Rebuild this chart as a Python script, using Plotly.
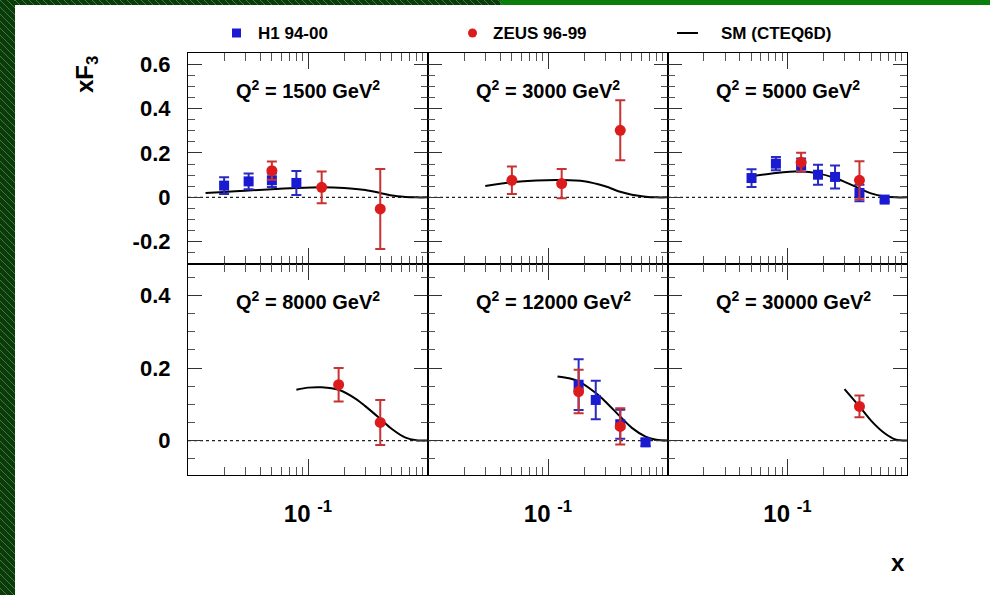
import plotly.graph_objects as go

W, H = 990, 595
FONT = "Liberation Sans"

# ---------------- data ----------------
q2_labels = ["1500", "3000", "5000", "8000", "12000", "30000"]

# H1 94-00 measurements (x, xF3, total error)
h1_x = {
    "1500": [0.02, 0.032, 0.05, 0.08],
    "5000": [0.05, 0.08, 0.13, 0.18, 0.25, 0.40, 0.65],
    "12000": [0.18, 0.25, 0.40, 0.65],
}
h1_y = {
    "1500": [0.053, 0.072, 0.077, 0.065],
    "5000": [0.087, 0.152, 0.145, 0.102, 0.092, 0.020, -0.010],
    "12000": [0.154, 0.112, 0.045, -0.005],
}
h1_err = {
    "1500": [0.038, 0.036, 0.030, 0.054],
    "5000": [0.040, 0.030, 0.030, 0.045, 0.052, 0.037, 0.010],
    "12000": [0.070, 0.053, 0.040, 0.010],
}

# ZEUS 96-99 measurements
zeus_x = {
    "1500": [0.05, 0.13, 0.40],
    "3000": [0.05, 0.13, 0.40],
    "5000": [0.13, 0.40],
    "8000": [0.18, 0.40],
    "12000": [0.18, 0.40],
    "30000": [0.40],
}
zeus_y = {
    "1500": [0.120, 0.045, -0.052],
    "3000": [0.077, 0.062, 0.302],
    "5000": [0.158, 0.077],
    "8000": [0.154, 0.050],
    "12000": [0.135, 0.039],
    "30000": [0.094],
}
zeus_err = {
    "1500": [0.041, 0.072, 0.180],
    "3000": [0.062, 0.066, 0.135],
    "5000": [0.043, 0.086],
    "8000": [0.046, 0.062],
    "12000": [0.060, 0.050],
    "30000": [0.030],
}

# Standard Model expectation (CTEQ6D)
sm_x = {
    "1500": [0.014, 0.02, 0.03, 0.05, 0.08, 0.13, 0.2, 0.3, 0.4, 0.5, 0.65, 0.8, 1.0],
    "3000": [0.03, 0.05, 0.08, 0.13, 0.2, 0.3, 0.4, 0.5, 0.65, 0.8, 1.0],
    "5000": [0.05, 0.08, 0.13, 0.18, 0.25, 0.3, 0.4, 0.5, 0.65, 0.8, 1.0],
    "8000": [0.08, 0.1, 0.13, 0.18, 0.25, 0.3, 0.4, 0.5, 0.65, 0.8, 1.0],
    "12000": [0.12, 0.15, 0.18, 0.25, 0.3, 0.4, 0.5, 0.65, 0.8, 1.0],
    "30000": [0.3, 0.4, 0.5, 0.65, 0.8, 1.0],
}
sm_y = {
    "1500": [0.020, 0.024, 0.030, 0.037, 0.042, 0.045, 0.042, 0.033, 0.020, 0.008, 0.002, 0.0, 0.0],
    "3000": [0.051, 0.068, 0.076, 0.078, 0.073, 0.050, 0.025, 0.012, 0.003, 0.0, 0.0],
    "5000": [0.095, 0.110, 0.117, 0.108, 0.087, 0.070, 0.040, 0.018, 0.004, 0.0, 0.0],
    "8000": [0.140, 0.146, 0.147, 0.140, 0.115, 0.095, 0.060, 0.032, 0.008, 0.001, 0.0],
    "12000": [0.177, 0.172, 0.163, 0.131, 0.108, 0.066, 0.035, 0.011, 0.002, 0.0],
    "30000": [0.142, 0.094, 0.055, 0.020, 0.003, 0.0],
}

y_ticks_top = [-0.2, 0, 0.2, 0.4, 0.6]
y_ticks_bottom = [0, 0.2, 0.4]
x_tick = [0.1]
x_tick_text = ["10 <sup>-1</sup>"]
x_minor = [0.02, 0.03, 0.04, 0.05, 0.06, 0.07, 0.08, 0.09,
           0.2, 0.3, 0.4, 0.5, 0.6, 0.7, 0.8, 0.9]

# ---------------- layout geometry (pixels) ----------------
col_px = [(188, 428), (428, 668), (668, 907)]
row_px = [(53, 264), (264, 475)]


def px(x):
    return x / W


def py(y):
    return 1 - y / H


BLUE = "#1a1ad2"
BLUE_BAR = "#2a2ac0"
RED = "#dc1c1c"
RED_BAR = "#c83232"

fig = go.Figure()
layout = dict(
    width=W, height=H,
    margin=dict(l=0, r=0, t=0, b=0),
    paper_bgcolor="white", plot_bgcolor="white",
    showlegend=False,
    font=dict(family=FONT, color="black"),
)
annotations = []
shapes = []

for i, q in enumerate(q2_labels):
    r, c = divmod(i, 3)
    n = i + 1
    xa = "x" if n == 1 else f"x{n}"
    ya = "y" if n == 1 else f"y{n}"
    x_key = "xaxis" if n == 1 else f"xaxis{n}"
    y_key = "yaxis" if n == 1 else f"yaxis{n}"

    yticks = y_ticks_top if r == 0 else y_ticks_bottom
    yrange = [-0.3, 0.65] if r == 0 else [-0.095, 0.487]

    layout[x_key] = dict(
        type="log", range=[-2, 0], anchor=ya,
        domain=[px(col_px[c][0]), px(col_px[c][1])],
        showgrid=False, zeroline=False,
        showline=True, linecolor="black", linewidth=1.2, mirror="allticks",
        ticks="inside", ticklen=16, tickwidth=1, tickcolor="#333",
        tickmode="array", tickvals=x_tick, ticktext=x_tick_text,
        showticklabels=(r == 1),
        tickfont=dict(family=FONT, size=24, weight="bold"),
        ticklabelstandoff=17,
        minor=dict(ticks="inside", ticklen=8, tickwidth=1, tickcolor="#555",
                   tickmode="array", tickvals=x_minor),
    )
    layout[y_key] = dict(
        range=yrange, anchor=xa,
        domain=[py(row_px[r][1]), py(row_px[r][0])],
        showgrid=False, zeroline=False,
        showline=True, linecolor="black", linewidth=1.2, mirror="allticks",
        ticks="inside", ticklen=14, tickwidth=1, tickcolor="#333",
        tickmode="array", tickvals=yticks,
        ticktext=[("%g" % v) for v in yticks],
        showticklabels=(c == 0),
        tickfont=dict(family=FONT, size=22, weight="bold"),
        ticklabelstandoff=12,
        minor=dict(ticks="inside", ticklen=7, tickwidth=1, tickcolor="#555",
                   dtick=0.05, tick0=0),
    )

    # dotted zero line
    shapes.append(dict(type="line", xref=f"{xa} domain", yref=ya,
                       x0=0, x1=1, y0=0, y1=0,
                       line=dict(color="#222", width=1.2, dash="dot"),
                       layer="below"))

    # SM curve
    fig.add_trace(go.Scatter(
        x=sm_x[q], y=sm_y[q], mode="lines", xaxis=xa, yaxis=ya,
        line=dict(color="black", width=2, shape="spline", smoothing=0.8),
    ))
    # H1 points
    if q in h1_x:
        fig.add_trace(go.Scatter(
            x=h1_x[q], y=h1_y[q], mode="markers", xaxis=xa, yaxis=ya,
            marker=dict(symbol="square", size=10, color=BLUE),
            error_y=dict(type="data", array=h1_err[q], color=BLUE_BAR,
                         thickness=2, width=5),
        ))
    # ZEUS points
    if q in zeus_x:
        fig.add_trace(go.Scatter(
            x=zeus_x[q], y=zeus_y[q], mode="markers", xaxis=xa, yaxis=ya,
            marker=dict(symbol="circle", size=11, color=RED),
            error_y=dict(type="data", array=zeus_err[q], color=RED_BAR,
                         thickness=2, width=5),
        ))

    # panel label
    annotations.append(dict(
        xref=f"{xa} domain", yref="paper",
        x=46 / 240, y=py(89 if r == 0 else 300),
        xanchor="left", yanchor="middle", showarrow=False,
        text=f"Q<sup>2</sup> = {q} GeV<sup>2</sup>",
        font=dict(family=FONT, size=20, weight="bold"),
    ))

# axis titles
annotations.append(dict(
    xref="paper", yref="paper", x=px(86), y=py(75),
    text="xF<sub>3</sub>", textangle=-90, showarrow=False,
    xanchor="center", yanchor="middle",
    font=dict(family=FONT, size=24, weight="bold"),
))
annotations.append(dict(
    xref="paper", yref="paper", x=px(898), y=py(562),
    text="x", showarrow=False, xanchor="center", yanchor="middle",
    font=dict(family=FONT, size=24, weight="bold"),
))

# legend
legend_y = 33
shapes.append(dict(type="rect", xref="paper", yref="paper",
                   x0=px(232), x1=px(241), y0=py(legend_y - 4.5), y1=py(legend_y + 4.5),
                   fillcolor=BLUE, line=dict(width=0)))
shapes.append(dict(type="circle", xref="paper", yref="paper",
                   x0=px(468), x1=px(477), y0=py(legend_y - 4.5), y1=py(legend_y + 4.5),
                   fillcolor=RED, line=dict(width=0)))
shapes.append(dict(type="line", xref="paper", yref="paper",
                   x0=px(677), x1=px(698), y0=py(legend_y), y1=py(legend_y),
                   line=dict(color="black", width=2)))
for xpos, txt in [(256, "H1 94-00"), (491, "ZEUS 96-99"), (719, "SM (CTEQ6D)")]:
    annotations.append(dict(
        xref="paper", yref="paper", x=px(xpos), y=py(legend_y),
        text=txt, showarrow=False, xanchor="left", yanchor="middle",
        font=dict(family=FONT, size=17, weight="bold"),
    ))

# green page frame: hatched band on the left, band along the top
shapes.append(dict(type="rect", xref="paper", yref="paper",
                   x0=0, x1=px(15), y0=0, y1=1,
                   fillcolor="#0b3a0b", line=dict(width=0)))
shapes.append(dict(type="rect", xref="paper", yref="paper",
                   x0=0, x1=px(500), y0=py(5), y1=1,
                   fillcolor="#0b3a0b", line=dict(width=0)))
shapes.append(dict(type="rect", xref="paper", yref="paper",
                   x0=px(500), x1=1, y0=py(5), y1=1,
                   fillcolor="#0a7d0a", line=dict(width=0)))
for y0 in range(-14, H, 7):
    shapes.append(dict(type="line", xref="paper", yref="paper",
                       x0=0, x1=px(15), y0=py(y0), y1=py(y0 + 15),
                       line=dict(color="#3d7a3d", width=1)))
for x0 in range(15, 500, 7):
    shapes.append(dict(type="line", xref="paper", yref="paper",
                       x0=px(x0), x1=px(x0 + 5), y0=py(0), y1=py(5),
                       line=dict(color="#3d7a3d", width=1)))

layout["annotations"] = annotations
layout["shapes"] = shapes
fig.update_layout(**layout)

fig.write_html("out.html")
